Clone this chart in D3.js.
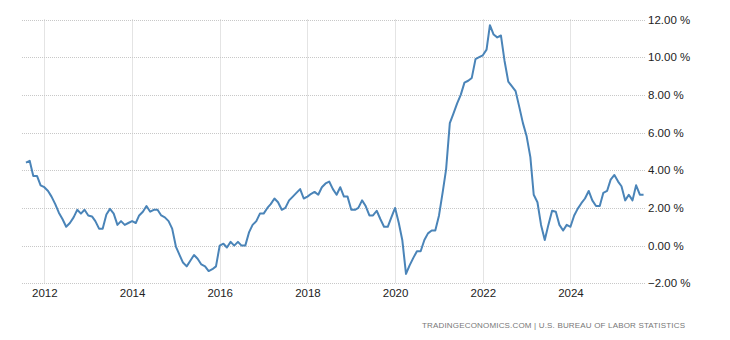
<!DOCTYPE html>
<html>
<head>
<meta charset="utf-8">
<script src="https://cdn.jsdelivr.net/npm/d3@7"></script>
<style>
  html, body { margin: 0; padding: 0; background: #fff; }
  svg { display: block; }
</style>
</head>
<body>
<svg id="chart" width="730" height="340"></svg>
<script>
// Monthly values, Aug 2011 .. Sep 2025 (percent, year-over-year)
const startYear = 2011;
const startMonth = 7; // August (0-based)
const values2011 = [4.4, 4.5, 3.7, 3.7, 3.2];
const values2012 = [3.1, 2.9, 2.6, 2.2, 1.75, 1.4, 1.0, 1.2, 1.5, 1.9, 1.7, 1.9];
const values2013 = [1.6, 1.55, 1.3, 0.9, 0.9, 1.65, 1.95, 1.7, 1.1, 1.3, 1.1, 1.2];
const values2014 = [1.3, 1.2, 1.6, 1.8, 2.1, 1.8, 1.9, 1.9, 1.6, 1.5, 1.3, 0.9];
const values2015 = [-0.05, -0.5, -0.9, -1.1, -0.8, -0.5, -0.7, -1.0, -1.1, -1.35, -1.25, -1.1];
const values2016 = [0.0, 0.1, -0.1, 0.2, 0.0, 0.2, 0.0, 0.0, 0.7, 1.1, 1.3, 1.7];
const values2017 = [1.7, 2.0, 2.2, 2.5, 2.3, 1.9, 2.0, 2.4, 2.6, 2.8, 3.0, 2.5];
const values2018 = [2.6, 2.75, 2.85, 2.7, 3.1, 3.3, 3.4, 3.0, 2.7, 3.1, 2.6, 2.6];
const values2019 = [1.9, 1.9, 2.0, 2.4, 2.1, 1.6, 1.6, 1.85, 1.4, 1.0, 1.0, 1.5];
const values2020 = [2.0, 1.2, 0.3, -1.5, -1.05, -0.65, -0.3, -0.3, 0.3, 0.65, 0.8, 0.8];
const values2021 = [1.6, 2.85, 4.05, 6.5, 7.0, 7.55, 8.0, 8.65, 8.75, 8.9, 9.9, 10.0];
const values2022 = [10.1, 10.4, 11.7, 11.2, 11.05, 11.15, 9.8, 8.7, 8.45, 8.2, 7.35, 6.5];
const values2023 = [5.8, 4.7, 2.7, 2.3, 1.1, 0.3, 1.1, 1.85, 1.8, 1.1, 0.8, 1.1];
const values2024 = [1.0, 1.6, 1.95, 2.25, 2.5, 2.9, 2.4, 2.1, 2.1, 2.8, 2.9, 3.5];
const values2025 = [3.75, 3.4, 3.15, 2.4, 2.7, 2.4, 3.2, 2.7, 2.7];

const yTicks = [-2, 0, 2, 4, 6, 8, 10, 12];
const xTickYears = [2012, 2014, 2016, 2018, 2020, 2022, 2024];
const sourceText = "TRADINGECONOMICS.COM | U.S. BUREAU OF LABOR STATISTICS";

const allValues = [].concat(values2011, values2012, values2013, values2014, values2015,
  values2016, values2017, values2018, values2019, values2020, values2021, values2022,
  values2023, values2024, values2025);
const data = allValues.map((v, i) => ({
  date: new Date(startYear, startMonth + i, 1),
  value: v
}));

const svg = d3.select("#chart");
const plotLeft = 22, plotRight = 645, plotTop = 19.5, plotBottom = 283.3;

const x = d3.scaleTime()
  .domain([new Date(2011, 5, 29), new Date(2025, 8, 13)])
  .range([plotLeft, plotRight]);
const y = d3.scaleLinear()
  .domain([-2, 12])
  .range([plotBottom, plotTop]);

const gridColor = "#c8c8c8";

// horizontal gridlines
svg.append("g")
  .selectAll("line")
  .data(yTicks)
  .join("line")
  .attr("x1", plotLeft).attr("x2", plotRight)
  .attr("y1", d => Math.round(y(d)) + 0.5)
  .attr("y2", d => Math.round(y(d)) + 0.5)
  .attr("stroke", gridColor)
  .attr("stroke-width", 1)
  .attr("stroke-dasharray", "1,1");

// vertical gridlines
svg.append("g")
  .selectAll("line")
  .data(xTickYears)
  .join("line")
  .attr("x1", d => Math.round(x(new Date(d, 0, 1))) + 0.5)
  .attr("x2", d => Math.round(x(new Date(d, 0, 1))) + 0.5)
  .attr("y1", plotTop).attr("y2", plotBottom)
  .attr("stroke", gridColor)
  .attr("stroke-width", 1)
  .attr("stroke-dasharray", "1,1");

// y axis labels (right)
const yAxis = d3.axisRight(y)
  .tickValues(yTicks)
  .tickSize(0)
  .tickPadding(0)
  .tickFormat(d => d3.format(".2f")(d) + " %");
const gy = svg.append("g")
  .attr("transform", `translate(${plotRight + 3},0)`)
  .call(yAxis);
gy.select(".domain").remove();
gy.selectAll("text")
  .attr("font-family", "Arial, 'Liberation Sans', sans-serif")
  .attr("font-size", 11.5)
  .attr("fill", "#222");

// x axis labels
const xAxis = d3.axisBottom(x)
  .tickValues(xTickYears.map(yr => new Date(yr, 0, 1)))
  .tickSize(0)
  .tickPadding(0)
  .tickFormat(d3.timeFormat("%Y"));
const gx = svg.append("g")
  .attr("transform", `translate(0,${plotBottom + 6})`)
  .call(xAxis);
gx.select(".domain").remove();
gx.selectAll("text")
  .attr("font-family", "Arial, 'Liberation Sans', sans-serif")
  .attr("font-size", 11.5)
  .attr("fill", "#222");

// line
const line = d3.line()
  .x(d => x(d.date))
  .y(d => y(d.value));
svg.append("path")
  .datum(data)
  .attr("fill", "none")
  .attr("stroke", "#4a84b8")
  .attr("stroke-width", 2)
  .attr("stroke-linejoin", "round")
  .attr("d", line);

// source text
svg.append("text")
  .attr("x", 685)
  .attr("y", 328)
  .attr("text-anchor", "end")
  .attr("font-family", "Arial, 'Liberation Sans', sans-serif")
  .attr("font-size", 8)
  .attr("fill", "#777")
  .attr("textLength", 263)
  .attr("lengthAdjust", "spacing")
  .text(sourceText);
</script>
</body>
</html>
